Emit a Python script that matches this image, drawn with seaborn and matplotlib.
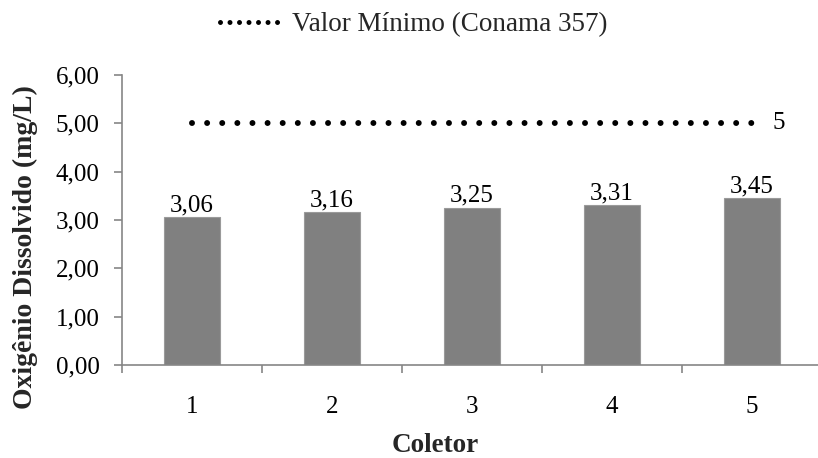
import numpy as np
import pandas as pd
import matplotlib
matplotlib.use("Agg")
import matplotlib.pyplot as plt
from matplotlib.lines import Line2D
from matplotlib.ticker import FixedLocator, FuncFormatter
import seaborn as sns

# ---- data ----
coletores = ["1", "2", "3", "4", "5"]
oxigenio = [3.06, 3.16, 3.25, 3.31, 3.45]
valor_minimo = [5, 5, 5, 5, 5]
y_ticks = [0, 1, 2, 3, 4, 5, 6]
legend_label = "Valor Mínimo (Conama 357)"
x_label = "Coletor"
y_label = "Oxigênio Dissolvido (mg/L)"

sns.set_theme(style="white")
plt.rcParams["font.family"] = ["Liberation Serif", "DejaVu Serif"]
FS = 18

W, H = 818, 458
fig = plt.figure(figsize=(W / 100, H / 100), dpi=100)
ax = fig.add_axes([122 / W, 93 / H, 700 / W, 290 / H])

df = pd.DataFrame({"Coletor": coletores, "OD": oxigenio})
sns.barplot(data=df, x="Coletor", y="OD", color="#808080", saturation=1,
            width=0.4, edgecolor="#9a9a9a", linewidth=0.8, ax=ax)

pos = np.arange(len(coletores))
sns.lineplot(x=pos, y=valor_minimo, color="black", linewidth=4.3,
             dashes=False, ax=ax, legend=False)
line = ax.lines[-1]
line.set_linestyle((0, (0.001, 2.53)))
line.set_dash_capstyle("round")

# value labels
for p, v in zip(pos, oxigenio):
    ax.annotate(f"{v:.2f}".replace(".", ","), xy=(p, v), xytext=(0, 1),
                textcoords="offset pixels", ha="center", va="bottom",
                fontsize=FS, color="black")
ax.annotate(str(valor_minimo[-1]), xy=(pos[-1], valor_minimo[-1]), xytext=(27, 0),
            textcoords="offset pixels", ha="center", va="center",
            fontsize=FS, color="black")

ax.set_xlim(-0.5, len(coletores) - 0.5)
ax.set_ylim(0, 6)
ax.set_yticks(y_ticks)
ax.yaxis.set_major_formatter(FuncFormatter(lambda v, _: f"{v:.2f}".replace(".", ",")))
ax.set_xticks(pos)
ax.set_xticklabels(coletores)
ax.xaxis.set_minor_locator(FixedLocator(np.arange(len(coletores) + 1) - 0.5))

gray = "#868686"
for s in ["top", "right"]:
    ax.spines[s].set_visible(False)
for s in ["left", "bottom"]:
    ax.spines[s].set_color(gray)
    ax.spines[s].set_linewidth(1.2)

ax.tick_params(axis="y", which="major", direction="out", length=6, width=1.2,
               color=gray, labelsize=FS, labelcolor="black", pad=10, left=True)
ax.tick_params(axis="x", which="major", length=0, labelsize=FS,
               labelcolor="black", pad=22)
ax.tick_params(axis="x", which="minor", direction="out", length=6, width=1.2,
               color=gray, bottom=True)
ax.set_xlabel("")
ax.set_ylabel("")

fig.text(435 / W, 1 - 446 / H, x_label, ha="center", va="center",
         fontsize=19.5, fontweight="bold")
fig.text(25 / W, 1 - 247 / H, y_label, ha="center", va="center",
         rotation=90, fontsize=20, fontweight="bold")

handle = Line2D([0], [0], color="black", linewidth=3.6,
                linestyle=(0, (0.001, 1.9)), dash_capstyle="round")
fig.legend([handle], [legend_label], loc="center",
           bbox_to_anchor=(414 / W, 1 - 25 / H), frameon=False,
           fontsize=19.5, handlelength=2.15, handletextpad=0.5)

fig.savefig("out.png", dpi=100)
